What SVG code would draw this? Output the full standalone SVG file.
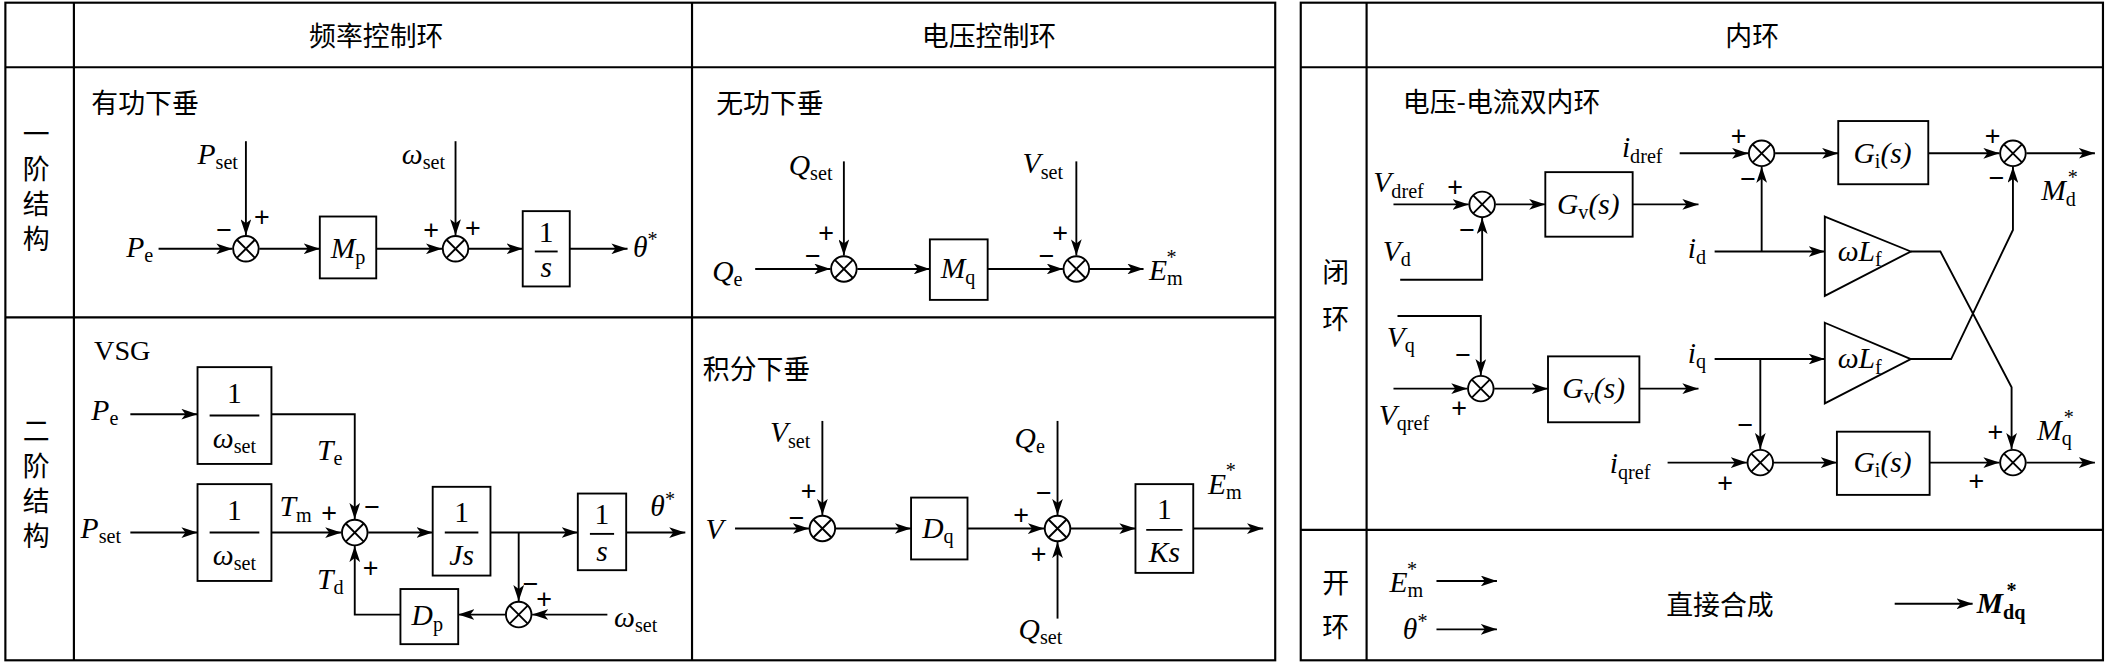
<svg xmlns="http://www.w3.org/2000/svg" xmlns:xlink="http://www.w3.org/1999/xlink" width="2107" height="663" viewBox="0 0 2107 663">
<style>
.l{fill:none;stroke:#000;stroke-width:1.4}
.a{fill:none;stroke:#000;stroke-width:1.4;marker-end:url(#ah)}
.b{fill:#fff;stroke:#000;stroke-width:1.4}
.g{stroke:#000;stroke-width:1.6;fill:none}
.v{font-family:"Liberation Serif",serif;font-style:italic;font-size:22px}
.s{font-style:normal;font-size:15px}
.n{font-family:"Liberation Serif",serif;font-size:22px}
.c{font-family:"Noto Sans CJK SC",sans-serif;font-size:20px}
.p{font-family:"Liberation Sans",sans-serif;font-size:20px}
</style>
<defs>
<marker id="ah" markerWidth="12" markerHeight="8" refX="12" refY="4" orient="auto" markerUnits="userSpaceOnUse"><path d="M0,0L12,4L0,8L3,4Z" fill="#000"/></marker>
<g id="sum"><circle r="9.5" fill="#fff" stroke="#000" stroke-width="1.4"/><path d="M-6.7,-6.7L6.7,6.7M-6.7,6.7L6.7,-6.7" stroke="#000" stroke-width="1.4"/></g>
</defs>
<rect width="2107" height="663" fill="#fff"/>
<g transform="scale(1.34375,1.3448)">
<g id="tables">
<rect class="g" x="4" y="2" width="945" height="489"/>
<path class="g" d="M55,2V491M515,2V491M4,50H949M4,236H949"/>
<rect class="g" x="968" y="2" width="597" height="489"/>
<path class="g" d="M1017,2V491M968,50H1565M968,394H1565"/>
<text class="c" x="280" y="34" text-anchor="middle">频率控制环</text>
<text class="c" x="736" y="34" text-anchor="middle">电压控制环</text>
<text class="c" x="1304" y="34" text-anchor="middle">内环</text>
<g class="c" text-anchor="middle"><text x="27" y="107">一</text><text x="27" y="133">阶</text><text x="27" y="159">结</text><text x="27" y="185">构</text>
<text x="27" y="328">二</text><text x="27" y="354">阶</text><text x="27" y="380">结</text><text x="27" y="406">构</text>
<text x="994" y="210">闭</text><text x="994" y="245">环</text><text x="994" y="441">开</text><text x="994" y="474">环</text></g>
<text class="c" x="68" y="84">有功下垂</text>
<text x="70" y="268" style="font-family:'Liberation Serif',serif;font-size:21px">VSG</text>
<text class="c" x="533" y="84">无功下垂</text>
<text class="c" x="523" y="282">积分下垂</text>
<text class="c" x="1044" y="83">电压-电流双内环</text>
<text class="c" x="1280" y="457" text-anchor="middle">直接合成</text>
</g>
<g id="connectors">
<path class="a" d="M118,185H173"/><path class="a" d="M183,105V175"/><path class="a" d="M193,185H238"/><path class="a" d="M280,185H329"/><path class="a" d="M339,105V175"/><path class="a" d="M349,185H389"/><path class="a" d="M424,185H467"/>
<path class="a" d="M97,308H147"/><path class="a" d="M97,396H147"/><path class="a" d="M202,308H264V386"/><path class="a" d="M202,396H254"/><path class="a" d="M274,396H322"/><path class="a" d="M365,396H430"/><path class="a" d="M386,396V447"/><path class="a" d="M466,396H510"/><path class="a" d="M452,457H396"/><path class="a" d="M376,457H341"/><path class="a" d="M298,457H264V406"/>
<path class="a" d="M562,200H618"/><path class="a" d="M628,120V190"/><path class="a" d="M638,200H692"/><path class="a" d="M735,200H791"/><path class="a" d="M801,120V190"/><path class="a" d="M811,200H851"/>
<path class="a" d="M547,393H602"/><path class="a" d="M612,313V383"/><path class="a" d="M622,393H678"/><path class="a" d="M720,393H777"/><path class="a" d="M787,313V383"/><path class="a" d="M787,460V403"/><path class="a" d="M797,393H845"/><path class="a" d="M888,393H940"/>
<path class="a" d="M1037,152H1093"/><path class="a" d="M1042,208H1103V162"/><path class="a" d="M1113,152H1150"/><path class="a" d="M1215,152H1264"/>
<path class="a" d="M1250,114H1301"/><path class="a" d="M1276,187H1358"/><path class="a" d="M1311,187V124"/><path class="a" d="M1321,114H1368"/><path class="a" d="M1435,114H1488"/><path class="a" d="M1508,114H1559"/>
<path class="a" d="M1422,187H1444L1497,288V334"/><path class="a" d="M1422,267H1452L1498,171V124"/>
<path class="a" d="M1040,235H1102V279"/><path class="a" d="M1037,289H1092"/><path class="a" d="M1112,289H1152"/><path class="a" d="M1220,289H1264"/>
<path class="a" d="M1276,267H1358"/><path class="a" d="M1310,267V334"/><path class="a" d="M1241,344H1300"/><path class="a" d="M1320,344H1367"/><path class="a" d="M1436,344H1488"/><path class="a" d="M1508,344H1559"/>
<path class="a" d="M1069,432H1114"/><path class="a" d="M1069,468H1114"/><path class="a" d="M1410,449H1468"/>
</g>
<g id="sums">
<use xlink:href="#sum" x="183" y="185"/><use xlink:href="#sum" x="339" y="185"/>
<use xlink:href="#sum" x="264" y="396"/><use xlink:href="#sum" x="386" y="457"/>
<use xlink:href="#sum" x="628" y="200"/><use xlink:href="#sum" x="801" y="200"/>
<use xlink:href="#sum" x="612" y="393"/><use xlink:href="#sum" x="787" y="393"/>
<use xlink:href="#sum" x="1103" y="152"/><use xlink:href="#sum" x="1311" y="114"/><use xlink:href="#sum" x="1498" y="114"/>
<use xlink:href="#sum" x="1102" y="289"/><use xlink:href="#sum" x="1310" y="344"/><use xlink:href="#sum" x="1498" y="344"/>
</g>
<g id="signs" class="p">
<text x="189" y="168">+</text><text x="161" y="178">−</text><text x="315" y="178">+</text><text x="346" y="176">+</text>
<text x="239" y="388">+</text><text x="271" y="384">−</text><text x="270" y="429">+</text><text x="389" y="441">−</text><text x="399" y="452">+</text>
<text x="609" y="180">+</text><text x="599" y="197">−</text><text x="783" y="180">+</text><text x="773" y="197">−</text>
<text x="596" y="372">+</text><text x="587" y="392">−</text><text x="771" y="373">−</text><text x="754" y="390">+</text><text x="767" y="419">+</text>
<text x="1077" y="146">+</text><text x="1086" y="178">−</text><text x="1288" y="108">+</text><text x="1295" y="140">−</text><text x="1477" y="108">+</text><text x="1480" y="139">−</text>
<text x="1083" y="271">−</text><text x="1080" y="310">+</text><text x="1293" y="323">−</text><text x="1278" y="366">+</text><text x="1479" y="328">+</text><text x="1465" y="364">+</text>
</g>
<g id="blocks">
<g id="Mp"><rect class="b" x="238" y="161" width="42" height="46"/><text class="v" x="259" y="192" text-anchor="middle">M<tspan class="s" dy="4">p</tspan></text></g>
<g id="int1"><rect class="b" x="389" y="157" width="35" height="56"/><text class="n" x="406.5" y="180" text-anchor="middle">1</text><path class="l" d="M398,187H415"/><text class="v" x="406.5" y="206" text-anchor="middle">s</text></g>
<g id="box1"><rect class="b" x="147" y="273" width="55" height="72"/><text class="n" x="174.5" y="300" text-anchor="middle">1</text><path class="l" d="M156,309H193"/><text class="v" x="174.5" y="333" text-anchor="middle">ω<tspan class="s" dy="4">set</tspan></text></g>
<g id="box2"><rect class="b" x="147" y="360" width="55" height="72"/><text class="n" x="174.5" y="387" text-anchor="middle">1</text><path class="l" d="M156,396H193"/><text class="v" x="174.5" y="420" text-anchor="middle">ω<tspan class="s" dy="4">set</tspan></text></g>
<g id="Js"><rect class="b" x="322" y="362" width="43" height="66"/><text class="n" x="343.5" y="388" text-anchor="middle">1</text><path class="l" d="M331,396H356"/><text class="v" x="343.5" y="420" text-anchor="middle">Js</text></g>
<g id="int2"><rect class="b" x="430" y="367" width="36" height="57"/><text class="n" x="448" y="390" text-anchor="middle">1</text><path class="l" d="M439,397H457"/><text class="v" x="448" y="417" text-anchor="middle">s</text></g>
<g id="Dp"><rect class="b" x="298" y="438" width="43" height="41"/><text class="v" x="318" y="465" text-anchor="middle">D<tspan class="s" dy="4">p</tspan></text></g>
<g id="Mq"><rect class="b" x="692" y="178" width="43" height="45"/><text class="v" x="713" y="207" text-anchor="middle">M<tspan class="s" dy="4">q</tspan></text></g>
<g id="Dq"><rect class="b" x="678" y="370" width="42" height="46"/><text class="v" x="698" y="400" text-anchor="middle">D<tspan class="s" dy="4">q</tspan></text></g>
<g id="Ks"><rect class="b" x="845" y="360" width="43" height="66"/><text class="n" x="866.5" y="386" text-anchor="middle">1</text><path class="l" d="M853,394H880"/><text class="v" x="866.5" y="418" text-anchor="middle">Ks</text></g>
<g id="Gv1"><rect class="b" x="1150" y="128" width="65" height="48"/><text class="v" x="1182" y="159" text-anchor="middle">G<tspan class="s" dy="4">v</tspan><tspan class="n" dy="-4">(</tspan>s<tspan class="n">)</tspan></text></g>
<g id="Gv2"><rect class="b" x="1152" y="265" width="68" height="49" stroke-width="2.4"/><text class="v" x="1186" y="296" text-anchor="middle">G<tspan class="s" dy="4">v</tspan><tspan class="n" dy="-4">(</tspan>s<tspan class="n">)</tspan></text></g>
<g id="Gi1"><rect class="b" x="1368" y="90" width="67" height="47"/><text class="v" x="1401" y="121" text-anchor="middle">G<tspan class="s" dy="4">i</tspan><tspan class="n" dy="-4">(</tspan>s<tspan class="n">)</tspan></text></g>
<g id="Gi2"><rect class="b" x="1367" y="321" width="69" height="47"/><text class="v" x="1401" y="351" text-anchor="middle">G<tspan class="s" dy="4">i</tspan><tspan class="n" dy="-4">(</tspan>s<tspan class="n">)</tspan></text></g>
<g id="wL1"><path class="b" d="M1358,161L1422,187L1358,220Z"/><text class="v" x="1384" y="194" text-anchor="middle">ωL<tspan class="s" dy="4">f</tspan></text></g>
<g id="wL2"><path class="b" d="M1358,240L1422,267L1358,300Z"/><text class="v" x="1384" y="274" text-anchor="middle">ωL<tspan class="s" dy="4">f</tspan></text></g>
</g>
<g id="labels" class="v">
<text x="147" y="122">P<tspan class="s" dy="4">set</tspan></text>
<text x="299" y="122">ω<tspan class="s" dy="4">set</tspan></text>
<text x="94" y="191">P<tspan class="s" dy="4">e</tspan></text>
<text x="471" y="191">θ<tspan class="s" dy="-8">*</tspan></text>
<text x="68" y="312">P<tspan class="s" dy="4">e</tspan></text>
<text x="60" y="400">P<tspan class="s" dy="4">set</tspan></text>
<text x="236" y="342">T<tspan class="s" dy="4">e</tspan></text>
<text x="208" y="384">T<tspan class="s" dy="4">m</tspan></text>
<text x="236" y="438">T<tspan class="s" dy="4">d</tspan></text>
<text x="484" y="384">θ<tspan class="s" dy="-8">*</tspan></text>
<text x="457" y="466">ω<tspan class="s" dy="4">set</tspan></text>
<text x="587" y="130">Q<tspan class="s" dy="4">set</tspan></text>
<text x="761" y="129">V<tspan class="s" dy="4">set</tspan></text>
<text x="530" y="209">Q<tspan class="s" dy="4">e</tspan></text>
<text x="855" y="208">E<tspan class="s" dy="4">m</tspan><tspan class="s" dx="-12" dy="-16">*</tspan></text>
<text x="573" y="329">V<tspan class="s" dy="4">set</tspan></text>
<text x="525" y="401">V</text>
<text x="755" y="333">Q<tspan class="s" dy="4">e</tspan></text>
<text x="758" y="475">Q<tspan class="s" dy="4">set</tspan></text>
<text x="899" y="367">E<tspan class="s" dy="4">m</tspan><tspan class="s" dx="-12" dy="-16">*</tspan></text>
<text x="1022" y="143">V<tspan class="s" dy="4">dref</tspan></text>
<text x="1029" y="194">V<tspan class="s" dy="4">d</tspan></text>
<text x="1207" y="117">i<tspan class="s" dy="4">dref</tspan></text>
<text x="1256" y="192">i<tspan class="s" dy="4">d</tspan></text>
<text x="1519" y="149">M<tspan class="s" dy="4">d</tspan><tspan class="s" dx="-6" dy="-16">*</tspan></text>
<text x="1032" y="258">V<tspan class="s" dy="4">q</tspan></text>
<text x="1026" y="316">V<tspan class="s" dy="4">qref</tspan></text>
<text x="1256" y="270">i<tspan class="s" dy="4">q</tspan></text>
<text x="1198" y="352">i<tspan class="s" dy="4">qref</tspan></text>
<text x="1516" y="327">M<tspan class="s" dy="4">q</tspan><tspan class="s" dx="-6" dy="-16">*</tspan></text>
<text x="1034" y="440">E<tspan class="s" dy="4">m</tspan><tspan class="s" dx="-12" dy="-16">*</tspan></text>
<text x="1044" y="475">θ<tspan class="s" dy="-8">*</tspan></text>
<text x="1471" y="456" font-weight="bold">M<tspan class="s" dy="4" font-weight="bold">dq</tspan><tspan class="s" dx="-14" dy="-16">*</tspan></text>
</g>
</g>
</svg>
